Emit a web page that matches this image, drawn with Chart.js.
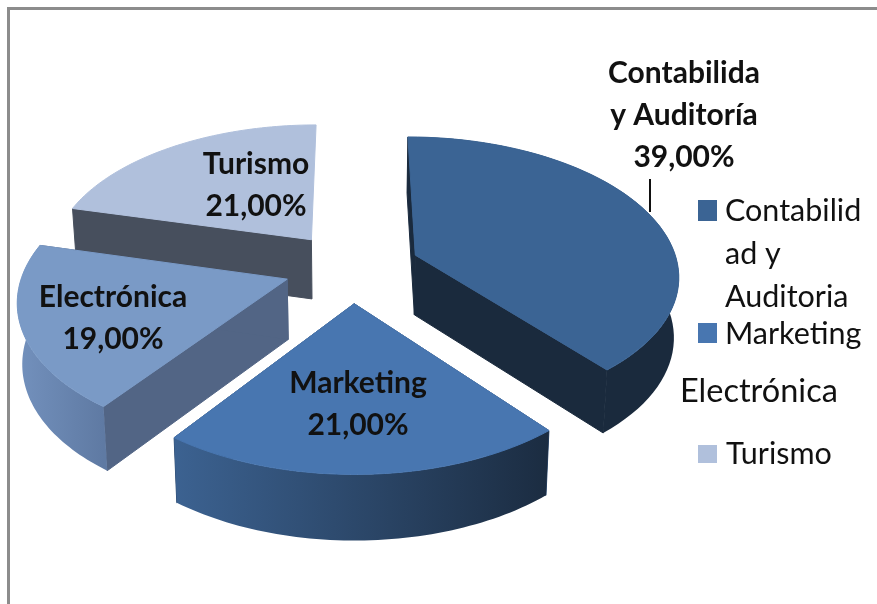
<!DOCTYPE html>
<html>
<head>
<meta charset="utf-8">
<style>
    html, body { margin: 0; padding: 0; background: #fff; overflow: hidden; }
    #frame { position: absolute; left: 7px; top: 7px; width: 870px; height: 597px;
             border-left: 3px solid #8c8c8c; border-top: 3px solid #8c8c8c; box-sizing: border-box; }
    canvas { position: absolute; left: 0; top: 0; }
</style>
</head>
<body>
<div id="frame"></div>
<canvas id="pie" width="877" height="604"></canvas>
<script src="https://cdn.jsdelivr.net/npm/chart.js@4"></script>
<script>
// ===== DATA =====
const categories = ['Contabilidad y Auditoria', 'Marketing', 'Electrónica', 'Turismo'];
const shares = [39, 21, 19, 21];
const sliceLabels = [['Contabilida', 'y Auditoría'], ['Marketing'], ['Electrónica'], ['Turismo']];

// ===== STYLE =====
const topColors = ['#3b6494', '#4876b0', '#7a9ac6', '#b0c0dc'];
const innerColors = ['#1a2a3d', '#2c4a70', '#526585', '#474f5d'];
const outerLeft = ['#1a2a3d', '#3c6291', '#7391bd', '#474f5d'];
const outerRight = ['#1a2a3d', '#1b2c41', '#5f7aa3', '#474f5d'];
// the back slice only shows its left radial wall
const onlyFirstWall = [false, false, false, true];
const drawOrder = [3, 0, 2, 1];
const labelAt = [[684, 73], [358, 383], [113, 297], [256, 164]];
const labelGap = 42;

// tilted view of the pie plane
const view = { cx: 352, cy: 267, rx: 263, ry: 137, persp: 0.134, depth: 60, shrink: 0.985 };

function project(u, v, down) {
    const s = 1 / (1 + view.persp * v);
    let x = view.rx * u * s;
    const y = -view.ry * v * s + (down ? view.depth * (1 + s) / 2 : 0);
    if (down) x *= view.shrink;
    return [view.cx + x, view.cy + y];
}

function slicePoints(arc, down) {
    const off = arc.options.offset / 4 / arc.outerRadius;
    const mid = (arc.startAngle + arc.endAngle) / 2;
    const ox = Math.cos(mid) * off;
    const oy = Math.sin(mid) * off;
    const points = [];
    const steps = 60;
    for (let i = 0; i <= steps; i++) {
        const a = arc.startAngle + (arc.endAngle - arc.startAngle) * i / steps;
        points.push(project(ox + Math.cos(a), -(oy + Math.sin(a)), down));
    }
    return { apex: project(ox, -oy, down), rim: points };
}

function fillPath(ctx, points, fill, seam) {
    ctx.beginPath();
    points.forEach((p, i) => i ? ctx.lineTo(p[0], p[1]) : ctx.moveTo(p[0], p[1]));
    ctx.closePath();
    ctx.fillStyle = fill;
    ctx.fill();
    if (seam) {
        // hides the hairline between neighbouring faces
        ctx.strokeStyle = fill;
        ctx.lineWidth = 1;
        ctx.stroke();
    }
}

function drawSlice(ctx, arc, i) {
    const top = slicePoints(arc, false);
    const low = slicePoints(arc, true);
    const first = top.rim[0];
    const last = top.rim[top.rim.length - 1];

    // radial walls
    fillPath(ctx, [top.apex, first, low.rim[0], low.apex], innerColors[i], true);
    if (!onlyFirstWall[i]) {
        fillPath(ctx, [top.apex, last, low.rim[low.rim.length - 1], low.apex], innerColors[i], true);

        // outer wall
        const xs = top.rim.map(p => p[0]);
        const grad = ctx.createLinearGradient(Math.min(...xs), 0, Math.max(...xs), 0);
        grad.addColorStop(0, outerLeft[i]);
        grad.addColorStop(1, outerRight[i]);
        fillPath(ctx, top.rim.concat(low.rim.slice().reverse()), grad, false);
    }

    // top face
    fillPath(ctx, [top.apex].concat(top.rim), topColors[i], true);
}

function percent(value) {
    return value.toFixed(2).replace('.', ',') + '%';
}

function drawText(ctx, text, x, y, font, align) {
    ctx.font = font;
    ctx.textAlign = align;
    ctx.textBaseline = 'middle';
    ctx.fillStyle = '#111';
    ctx.fillText(text, x, y);
}

function drawSliceLabels(ctx) {
    const font = 'bold 30px Lato';
    sliceLabels.forEach((lines, i) => {
        const [x, y] = labelAt[i];
        lines.concat(percent(shares[i])).forEach((line, n) => {
            drawText(ctx, line, x, y + n * labelGap, font, 'center');
        });
    });
    // leader line of the first slice
    ctx.strokeStyle = '#111';
    ctx.lineWidth = 2;
    ctx.beginPath();
    ctx.moveTo(650, 179);
    ctx.lineTo(650, 212);
    ctx.stroke();
}

function drawLegend(ctx) {
    const font = '30.5px Lato';
    ctx.fillStyle = topColors[0];
    ctx.fillRect(698, 200, 19, 21);
    ctx.fillStyle = topColors[1];
    ctx.fillRect(698, 323, 19, 20);
    ctx.fillStyle = topColors[3];
    ctx.fillRect(698, 445, 19, 18);
    drawText(ctx, 'Contabilid', 725, 211, font, 'left');
    drawText(ctx, 'ad y', 725, 254, font, 'left');
    drawText(ctx, 'Auditoria', 725, 297, font, 'left');
    drawText(ctx, categories[1], 725, 334, font, 'left');
    drawText(ctx, categories[2], 680, 392, '32.5px Lato', 'left');
    drawText(ctx, categories[3], 726, 454, font, 'left');
}

const tiltedPie = {
    id: 'tiltedPie',
    beforeDatasetsDraw(chart) {
        const ctx = chart.ctx;
        const arcs = chart.getDatasetMeta(0).data;
        ctx.save();
        drawOrder.forEach(i => drawSlice(ctx, arcs[i], i));
        drawSliceLabels(ctx);
        drawLegend(ctx);
        ctx.restore();
        return false;
    }
};

new Chart(document.getElementById('pie'), {
    type: 'pie',
    data: {
        labels: categories,
        datasets: [{
            data: shares,
            backgroundColor: topColors,
            borderWidth: 0,
            offset: 206
        }]
    },
    options: {
        responsive: false,
        animation: false,
        plugins: {
            legend: { display: false },
            tooltip: { enabled: false }
        }
    },
    plugins: [tiltedPie]
});
</script>
</body>
</html>
